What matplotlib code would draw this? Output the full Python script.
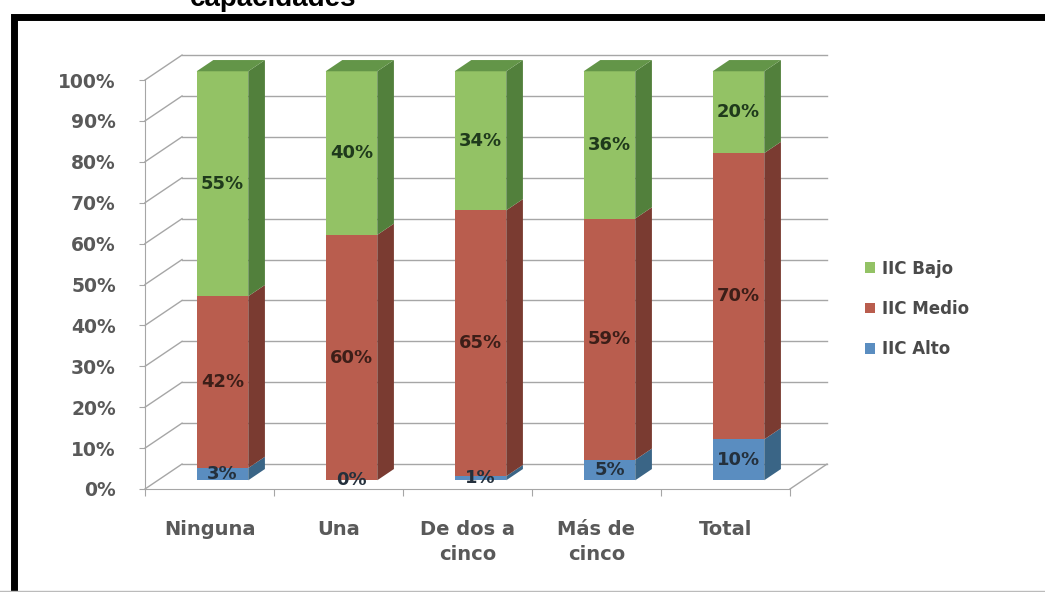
import matplotlib
matplotlib.use("Agg")
import matplotlib.pyplot as plt
from matplotlib.patches import Patch, Polygon, Rectangle
from matplotlib.lines import Line2D

categories = ["Ninguna", "Una", "De dos a\ncinco", "Más de\ncinco", "Total"]
alto = [3, 0, 1, 5, 10]
medio = [42, 60, 65, 59, 70]
bajo = [55, 40, 34, 36, 20]
series_names = ["IIC Alto", "IIC Medio", "IIC Bajo"]
y_ticks = list(range(0, 101, 10))

W, H = 1045, 592
# fake 3d depth: full floor depth and where the bars sit inside it
DX, DY = 0.287, 6.1
F0, BD = 0.35, 0.45
BAR_W = 0.4

FACE = {"IIC Alto": "#5a8dc0", "IIC Medio": "#b95d4e", "IIC Bajo": "#93c265"}
SIDE = {"IIC Alto": "#3a6586", "IIC Medio": "#7a3b31", "IIC Bajo": "#52803c"}
TOP = {"IIC Alto": "#4d7aa6", "IIC Medio": "#9a4a3e", "IIC Bajo": "#639548"}
LABEL_COLOR = {"IIC Alto": "#24303c", "IIC Medio": "#3c1e18", "IIC Bajo": "#1f3a1c"}
GRID = "#a6a6a6"
TEXT = "#595959"

plt.rcParams["font.family"] = ["DejaVu Sans"]


def draw_walls(ax):
    n = len(categories)
    for v in y_ticks:
        # back wall line and the diagonal on the left wall
        ax.plot([DX, n + DX], [v + DY, v + DY], color=GRID, lw=1, zorder=1)
        ax.plot([0, DX], [v, v + DY], color=GRID, lw=1, zorder=1)
    ax.plot([n, n + DX], [0, DY], color=GRID, lw=1, zorder=1)


def draw_bar(ax, i, bottom, value, name, is_top):
    cx = i + 0.5 + F0 * DX
    x0, x1 = cx - BAR_W / 2, cx + BAR_W / 2
    y0, y1 = bottom + F0 * DY, bottom + value + F0 * DY
    sdx, sdy = BD * DX, BD * DY
    if value > 0:
        ax.add_patch(Rectangle((x0, y0), BAR_W, value, facecolor=FACE[name], edgecolor="none", zorder=3))
        ax.add_patch(Polygon([(x1, y0), (x1 + sdx, y0 + sdy), (x1 + sdx, y1 + sdy), (x1, y1)],
                             closed=True, facecolor=SIDE[name], edgecolor="none", zorder=3))
    if is_top:
        ax.add_patch(Polygon([(x0, y1), (x1, y1), (x1 + sdx, y1 + sdy), (x0 + sdx, y1 + sdy)],
                             closed=True, facecolor=TOP[name], edgecolor="none", zorder=3))
    ax.text(cx, (y0 + y1) / 2, f"{value}%", ha="center", va="center", fontsize=13,
            fontweight="bold", color=LABEL_COLOR[name], zorder=4)


def main():
    fig = plt.figure(figsize=(W / 100, H / 100), dpi=100)

    # axes placed so that 1 category = 129 px and 1% = 4.09 px
    xlo, xhi, ylo, yhi = -0.2, 5.6, -3, 108
    px_x, px_y = 129, 4.09
    left = 145 + xlo * px_x
    ax = fig.add_axes([left / W, 1 - (489 - ylo * px_y) / H,
                       (xhi - xlo) * px_x / W, (yhi - ylo) * px_y / H])
    ax.set_xlim(xlo, xhi)
    ax.set_ylim(ylo, yhi)
    ax.patch.set_alpha(0)
    for s in ["top", "right"]:
        ax.spines[s].set_visible(False)
    ax.spines["left"].set_position(("data", 0))
    ax.spines["left"].set_bounds(0, 100)
    ax.spines["bottom"].set_position(("data", 0))
    ax.spines["bottom"].set_bounds(0, len(categories))
    for s in ["left", "bottom"]:
        ax.spines[s].set_color(GRID)

    ax.set_yticks(y_ticks, [f"{v}%" for v in y_ticks])
    ax.tick_params(axis="y", length=4, color=GRID, pad=17, labelsize=13.5, labelcolor=TEXT)
    for lbl in ax.get_yticklabels():
        lbl.set_fontweight("bold")
    ax.set_xticks(range(len(categories) + 1), [""] * (len(categories) + 1))
    ax.set_xticks([i + 0.5 for i in range(len(categories))], categories, minor=True)
    ax.tick_params(axis="x", which="major", length=5, color=GRID)
    ax.tick_params(axis="x", which="minor", length=0, pad=22, labelsize=14, labelcolor=TEXT)
    for lbl in ax.get_xticklabels(minor=True):
        lbl.set_fontweight("bold")
        lbl.set_linespacing(1.45)

    draw_walls(ax)

    stacks = [alto, medio, bajo]
    for i in range(len(categories)):
        bottom = 0
        for k, (name, vals) in enumerate(zip(series_names, stacks)):
            draw_bar(ax, i, bottom, vals[i], name, k == len(stacks) - 1)
            bottom += vals[i]

    handles = [Patch(facecolor=FACE[n], edgecolor="none") for n in reversed(series_names)]
    ax.legend(handles, list(reversed(series_names)), loc="center left",
              bbox_to_anchor=(857 / W, 1 - 309 / H), bbox_transform=fig.transFigure,
              frameon=False, prop={"size": 12, "weight": "bold"}, handlelength=0.6,
              handleheight=0.6, handletextpad=0.4, labelspacing=1.35, labelcolor="#4a4a4a",
              borderpad=0)

    # black frame around the chart and the clipped title above it
    fig.add_artist(Rectangle((13.5 / W, -0.05), 1.2, 1 - 16.5 / H + 0.05, transform=fig.transFigure,
                             fill=False, edgecolor="black", lw=5, clip_on=False))
    fig.add_artist(Line2D([0, 1], [1.5 / H, 1.5 / H], transform=fig.transFigure, color="#bbbbbb", lw=1))
    fig.text(190 / W, 1 - 6 / H, "capacidades", fontsize=20, fontweight="bold",
             family="Liberation Sans", va="baseline", ha="left")

    fig.savefig("out.png", dpi=100)


if __name__ == "__main__":
    main()
